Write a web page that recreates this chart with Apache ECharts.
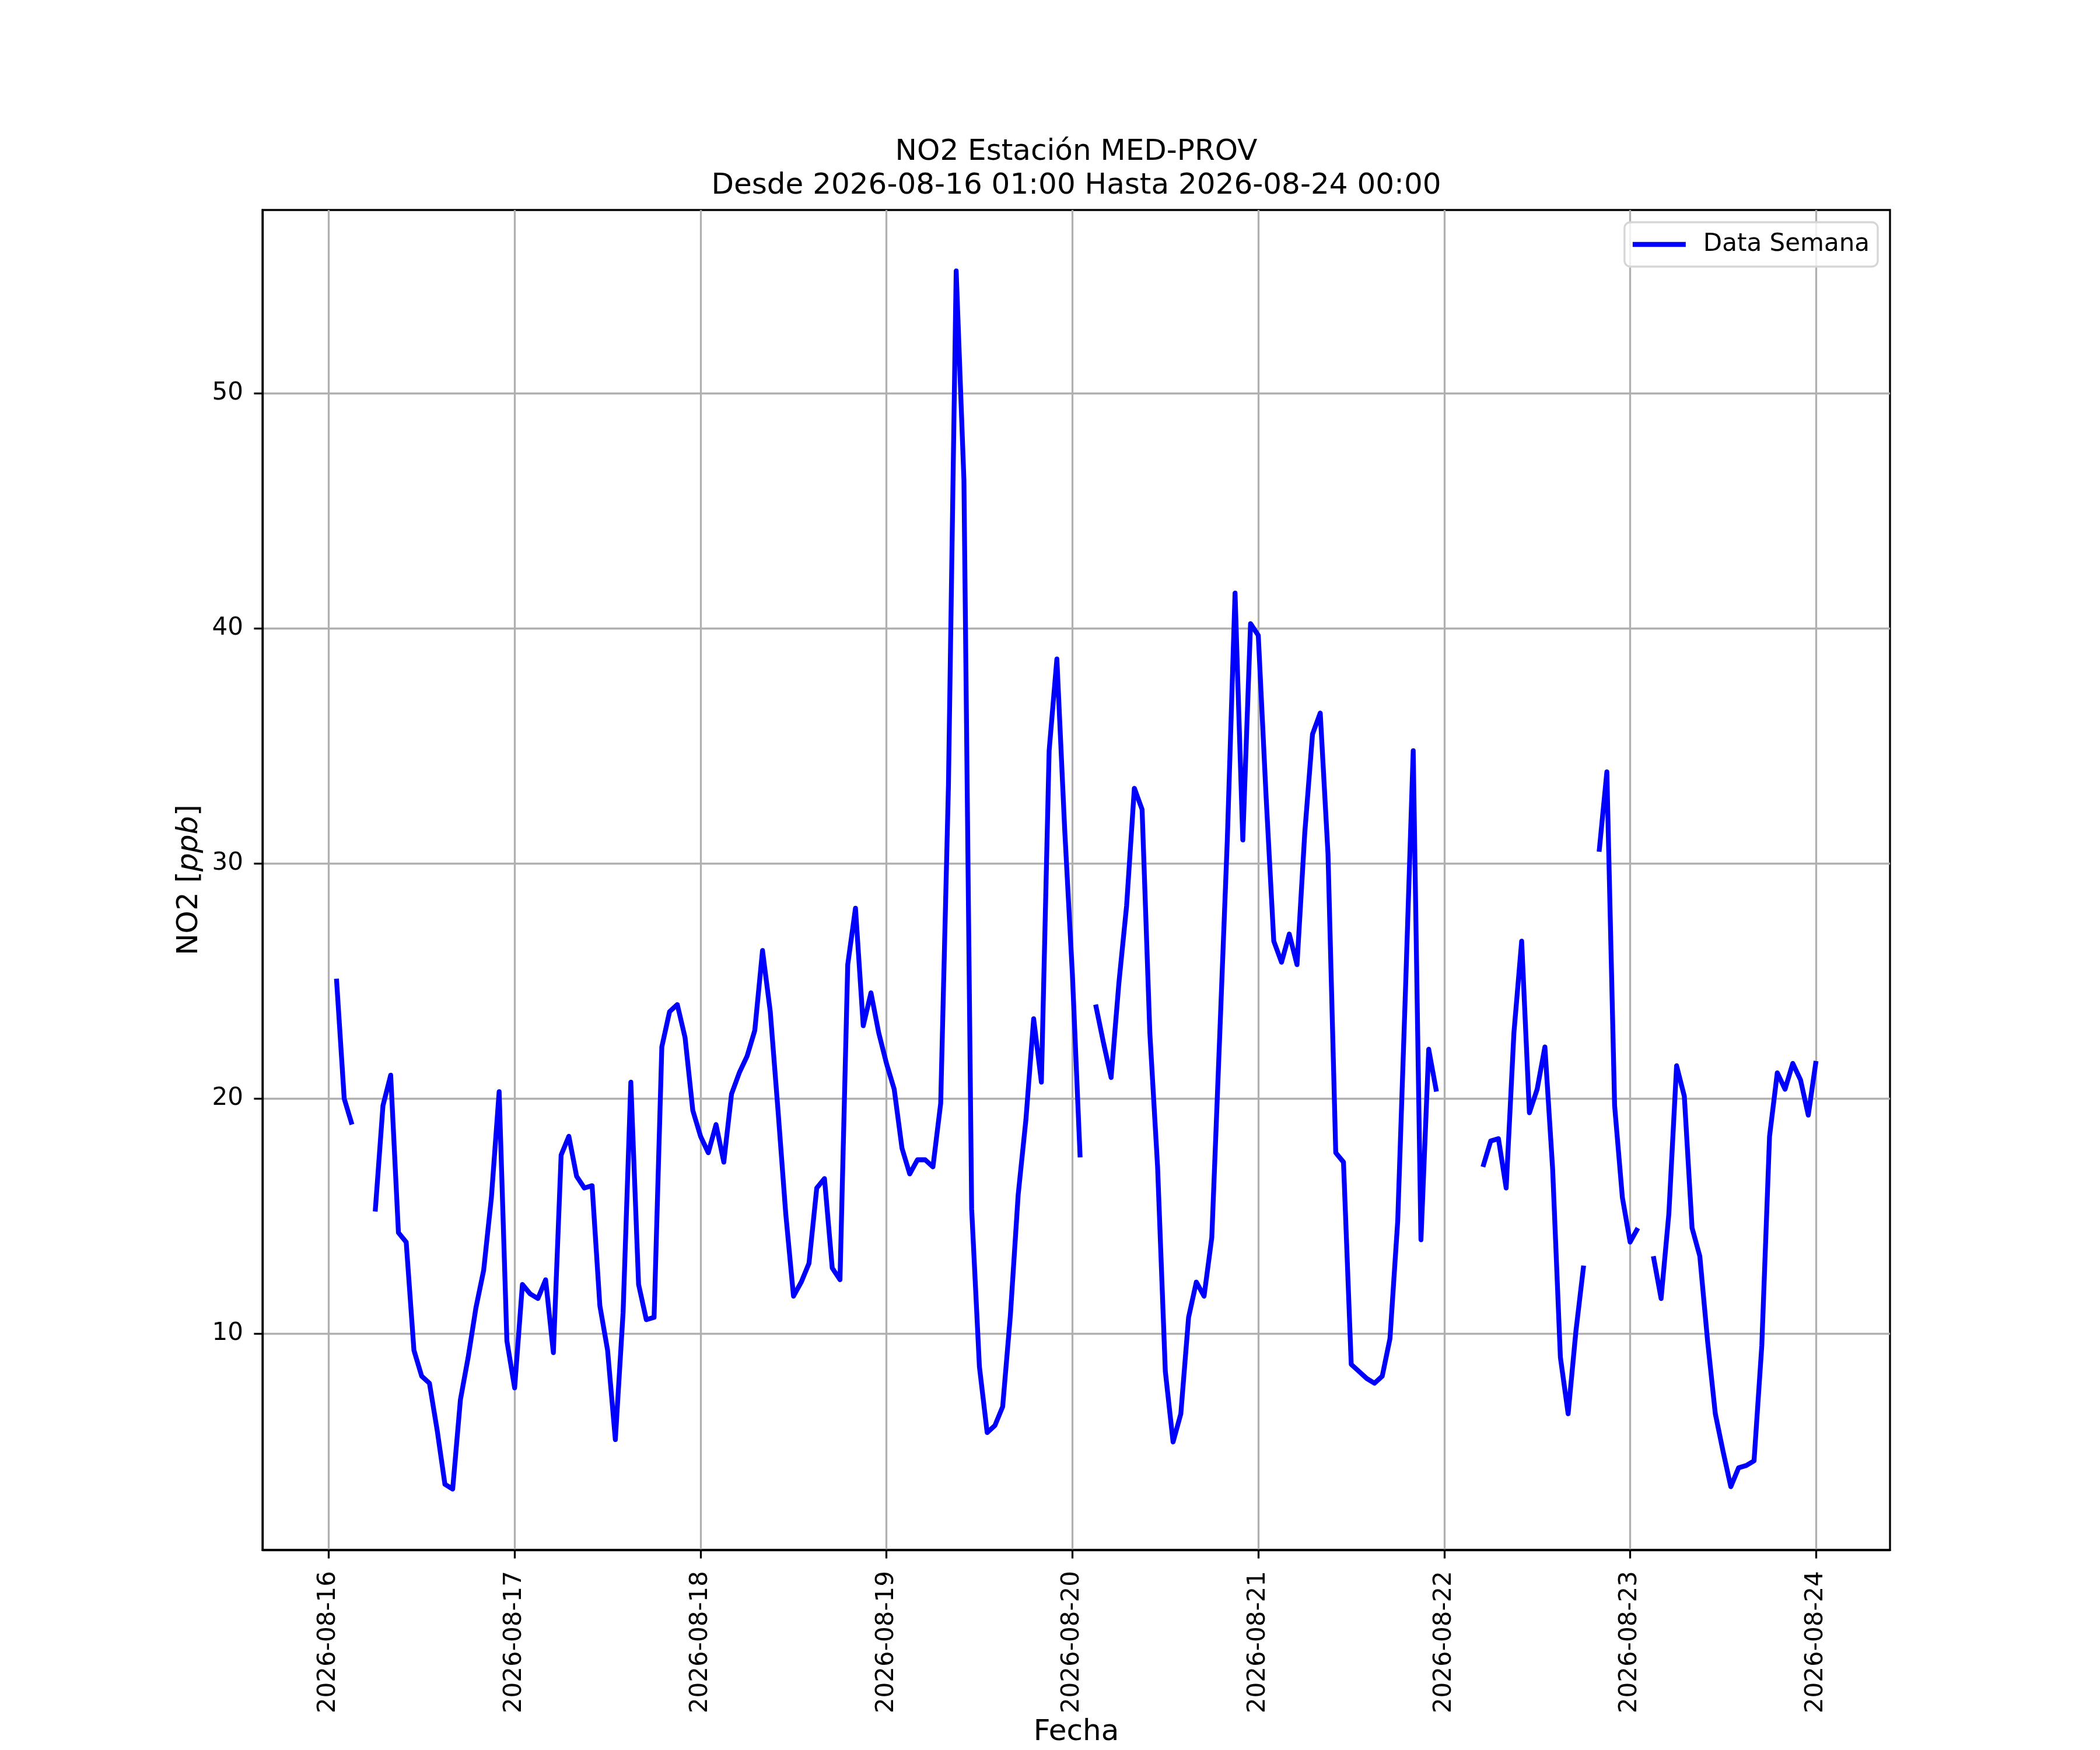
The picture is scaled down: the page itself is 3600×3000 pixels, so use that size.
<!DOCTYPE html>
<html>
<head>
<meta charset="utf-8">
<title>NO2 Estación MED-PROV</title>
<script src="https://cdn.jsdelivr.net/npm/echarts@6/dist/echarts.min.js"></script>
<style>
html,body{margin:0;padding:0;background:#fff;}
#chart{width:3600px;height:3000px;}
</style>
</head>
<body>
<div id="chart"></div>
<script>
// datos horarios NO2 (ppb), primera hora 2026-08-16 01:00
var startHour = '2026-08-16T01:00:00';
var day16 = [25.1, 20.0, 18.9, null, null, 15.2, 19.7, 21.0, 14.3, 13.9, 9.3, 8.2, 7.9, 5.9, 3.6, 3.4, 7.2, 9.0, 11.1, 12.7, 15.8, 20.3, 9.7];
var day17 = [7.7, 12.1, 11.7, 11.5, 12.3, 9.2, 17.6, 18.4, 16.7, 16.2, 16.3, 11.2, 9.3, 5.5, 10.9, 20.7, 12.1, 10.6, 10.7, 22.2, 23.7, 24.0, 22.6, 19.5];
var day18 = [18.4, 17.7, 18.9, 17.3, 20.2, 21.1, 21.8, 22.9, 26.3, 23.7, 19.5, 15.1, 11.6, 12.2, 13.0, 16.2, 16.6, 12.8, 12.3, 25.7, 28.1, 23.1, 24.5, 22.8];
var day19 = [21.5, 20.4, 17.9, 16.8, 17.4, 17.4, 17.1, 19.8, 33.3, 55.2, 46.3, 15.3, 8.6, 5.8, 6.1, 6.9, 10.8, 15.9, 19.1, 23.4, 20.7, 34.8, 38.7, 31.5];
var day20 = [25.3, 17.5, null, 24.0, 22.4, 20.9, 24.9, 28.2, 33.2, 32.3, 22.8, 17.1, 8.4, 5.4, 6.6, 10.7, 12.2, 11.6, 14.1, 22.5, 31.0, 41.5, 31.0, 40.2];
var day21 = [39.7, 32.9, 26.7, 25.8, 27.0, 25.7, 31.3, 35.5, 36.4, 30.4, 17.7, 17.3, 8.7, 8.4, 8.1, 7.9, 8.2, 9.8, 14.8, 24.6, 34.8, 14.0, 22.1, 20.3];
var day22 = [null, null, null, null, null, 17.1, 18.2, 18.3, 16.2, 22.8, 26.7, 19.4, 20.4, 22.2, 17.0, 9.0, 6.6, 10.1, 12.9, null, 30.5, 33.9, 19.7, 15.8];
var day23 = [13.9, 14.5, null, 13.3, 11.5, 15.1, 21.4, 20.1, 14.5, 13.3, 9.7, 6.6, 5.0, 3.5, 4.3, 4.4, 4.6, 9.5, 18.4, 21.1, 20.4, 21.5, 20.8, 19.3];
var day24 = [21.6];

var xTickLabels = ['2026-08-16', '2026-08-17', '2026-08-18', '2026-08-19', '2026-08-20', '2026-08-21', '2026-08-22', '2026-08-23', '2026-08-24'];
var yTicks = [10, 20, 30, 40, 50];

var FONT = 'DejaVu Sans';
var HOUR = 3600 * 1000;

var values = [].concat(day16, day17, day18, day19, day20, day21, day22, day23, day24);
var t0 = new Date(startHour).getTime();
var serie = values.map(function (v, i) {
	return [t0 + i * HOUR, v];
});

// margenes como matplotlib (5%)
var tEnd = t0 + (values.length - 1) * HOUR;
var xPad = (tEnd - t0) * 0.05;
var nums = values.filter(function (v) { return v !== null; });
var yMin = Math.min.apply(null, nums), yMax = Math.max.apply(null, nums);
var yPad = (yMax - yMin) * 0.05;

var xTickValues = xTickLabels.map(function (d) {
	return new Date(d + 'T00:00:00').getTime();
});

function fecha(v) {
	var d = new Date(v);
	var mm = ('0' + (d.getMonth() + 1)).slice(-2), dd = ('0' + d.getDate()).slice(-2);
	return d.getFullYear() + '-' + mm + '-' + dd;
}

var myChart = echarts.init(document.getElementById('chart'), null, {renderer: 'canvas'});

var option = {
	animation: false,
	backgroundColor: '#fff',
	textStyle: {fontFamily: FONT},
	graphic: [{
		type: 'text',
		x: 1845,
		y: 232,
		style: {
			text: 'NO2 Estación MED-PROV\nDesde 2026-08-16 01:00 Hasta 2026-08-24 00:00',
			fontFamily: FONT,
			fontSize: 50,
			lineHeight: 58,
			align: 'center',
			verticalAlign: 'top',
			fill: '#000'
		}
	}],
	grid: {
		left: 450, right: 360, top: 360, bottom: 330,
		show: true,
		borderColor: '#000',
		borderWidth: 3.3,
		containLabel: false
	},
	legend: {
		right: 381,
		top: 381,
		icon: 'rect',
		itemWidth: 91,
		itemHeight: 8.3,
		padding: [13, 14, 13, 14],
		backgroundColor: 'rgba(255,255,255,0.8)',
		borderColor: '#d6d6d6',
		borderWidth: 3.3,
		borderRadius: 10,
		textStyle: {
			fontFamily: FONT,
			fontSize: 42,
			color: '#000',
			lineHeight: 50,
			padding: [0, 0, 0, 25]
		},
		data: ['Data Semana']
	},
	xAxis: {
		type: 'value',
		min: t0 - xPad,
		max: tEnd + xPad,
		name: 'Fecha',
		nameLocation: 'middle',
		nameGap: 285,
		nameTextStyle: {fontFamily: FONT, fontSize: 50, color: '#000'},
		axisLine: {show: true, onZero: false, lineStyle: {color: '#000', width: 3.3}},
		axisTick: {show: true, length: 14.6, lineStyle: {color: '#000', width: 3.3}, customValues: xTickValues},
		axisLabel: {
			customValues: xTickValues,
			rotate: 90,
			margin: 36,
			fontFamily: FONT,
			fontSize: 42,
			color: '#000',
			formatter: function (v) { return fecha(v); }
		},
		splitLine: {show: true, lineStyle: {color: '#b0b0b0', width: 3.3}}
	},
	yAxis: {
		type: 'value',
		min: yMin - yPad,
		max: yMax + yPad,
		name: 'NO2 [{i|ppb}]',
		nameLocation: 'middle',
		nameGap: 100,
		nameRotate: 90,
		nameTextStyle: {
			fontFamily: FONT, fontSize: 50, color: '#000',
			rich: {i: {fontFamily: FONT, fontSize: 50, fontStyle: 'italic', color: '#000'}}
		},
		axisLine: {show: true, onZero: false, lineStyle: {color: '#000', width: 3.3}},
		axisTick: {show: true, length: 14.6, lineStyle: {color: '#000', width: 3.3}, customValues: yTicks},
		axisLabel: {
			customValues: yTicks,
			margin: 33,
			fontFamily: FONT,
			fontSize: 42,
			color: '#000'
		},
		splitLine: {show: true, lineStyle: {color: '#b0b0b0', width: 3.3}}
	},
	series: [{
		name: 'Data Semana',
		type: 'line',
		data: serie,
		showSymbol: false,
		symbol: 'none',
		connectNulls: false,
		itemStyle: {color: '#0000ff'},
		lineStyle: {color: '#0000ff', width: 8.3, join: 'round'}
	}]
};
myChart.setOption(option);
</script>
</body>
</html>
